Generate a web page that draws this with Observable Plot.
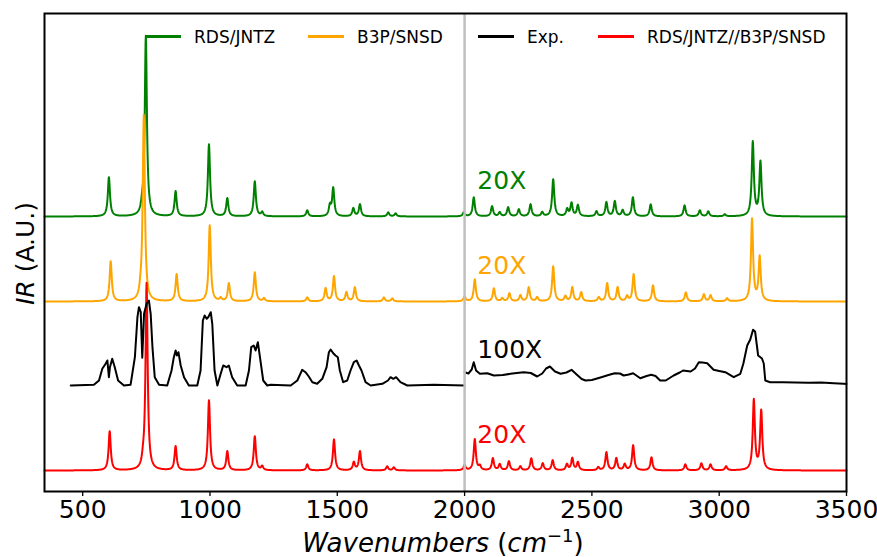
<!DOCTYPE html>
<html>
<head>
<meta charset="utf-8">
<script src="https://cdn.jsdelivr.net/npm/d3@7"></script>
<script src="https://cdn.jsdelivr.net/npm/@observablehq/plot@0.6"></script>
<style>
  body { margin: 0; background: #fff; }
  #chart svg { display: block; }
</style>
</head>
<body>
<div id="chart"></div>
<script>
// ---------------- data ----------------
const seriesNames  = ["RDS/JNTZ", "B3P/SNSD", "Exp.", "RDS/JNTZ//B3P/SNSD"];
const seriesColors = ["green", "orange", "black", "red"];
const scaleLabels  = ["20X", "20X", "100X", "20X"];
const seriesOffsets = [275, 190, 106, 21];
const xTicks = [500, 1000, 1500, 2000, 2500, 3000, 3500];

// RDS/JNTZ computed bands (wavenumber, intensity A.U.; >2000 shown 20X)
const rdsPos = [603, 733, 748, 865, 996, 1068, 1176, 1205, 1382, 1471, 1484, 1563, 1589, 1700, 1729,
  1997, 2036, 2108, 2138, 2171, 2213, 2259, 2305, 2348, 2403, 2420, 2445, 2518, 2557, 2590, 2621, 2661,
  2731, 2864, 2924, 2957, 3022, 3132, 3162];
const rdsInt = [39, 6, 180, 25, 72, 18, 35, 4, 6, 10, 28, 8, 12, 4, 3,
  4, 19, 10, 4, 9, 7, 12, 4, 37, 7, 13, 11, 5, 14, 15, 6, 19,
  12, 11, 6, 5, 2, 74, 54];

// B3P/SNSD computed bands
const b3pPos = [610, 727, 740, 869, 999, 1042, 1074, 1176, 1212, 1382, 1454, 1487, 1536, 1569, 1683, 1716,
  2000, 2040, 2115, 2148, 2176, 2219, 2252, 2285, 2348, 2396, 2423, 2458, 2527, 2560, 2601, 2638, 2664,
  2740, 2869, 2940, 2966, 3031, 3129, 3159];
const b3pInt = [40, 5, 186, 27, 76, 3, 18, 29, 3, 4, 13, 25, 9, 14, 4, 3,
  5, 22, 13, 3, 8, 6, 14, 4, 35, 5, 14, 9, 4, 18, 14, 5, 27,
  16, 9, 7, 6, 3, 82, 44];

// RDS/JNTZ//B3P/SNSD computed bands
const hybPos = [606, 737, 751, 865, 996, 1068, 1176, 1205, 1382, 1487, 1565, 1589, 1696, 1722,
  2000, 2040, 2060, 2111, 2138, 2174, 2219, 2262, 2307, 2346, 2402, 2423, 2445, 2525, 2557, 2596, 2629,
  2662, 2734, 2867, 2930, 2966, 3027, 3136, 3165];
const hybInt = [39, 6, 187, 24, 70, 19, 34, 4, 6, 31, 8, 19, 4, 3,
  5, 31, 4, 12, 6, 9, 4, 12, 7, 10, 6, 12, 8, 3, 18, 12, 6,
  25, 13, 6, 7, 6, 4, 70, 59];

// Experimental spectrum, below 2000 (wavenumber, intensity A.U.)
const expLowX = [453, 544, 564, 577, 590, 597, 603, 607, 616, 626, 639, 662, 688, 705, 715, 721, 728, 734,
  741, 751, 760, 767, 774, 783, 800, 832, 849, 858, 865, 870, 876, 885, 898, 917, 950, 963, 972, 979, 987,
  993, 1003, 1009, 1018, 1029, 1042, 1052, 1065, 1074, 1087, 1107, 1140, 1153, 1162, 1172, 1179, 1188, 1199,
  1209, 1225, 1238, 1317, 1343, 1362, 1375, 1388, 1402, 1421, 1441, 1458, 1467, 1474, 1484, 1493, 1502, 1510,
  1523, 1539, 1552, 1565, 1576, 1585, 1595, 1611, 1631, 1677, 1699, 1709, 1720, 1731, 1748, 1775, 1879, 2000];
const expLowY = [0, 0.7, 5, 16.7, 21.7, 25, 8.3, 18.3, 26.7, 18.3, 5, 0, 0.7, 28.3, 68.3, 78.3, 73.3, 27.7,
  71.7, 81.7, 85, 71.7, 38.3, 8.3, 0.7, 0, 15, 28.3, 35, 30, 33.3, 20, 8.3, 0, 0, 15, 65, 70, 66.7,
  68.3, 73.3, 61.7, 15, 0, 11.7, 20, 18.3, 20, 8.3, 0, 0, 15, 38.3, 40, 35, 43.3, 23.3,
  5, 0, 0.7, 0, 5, 15.7, 13.3, 9, 3.3, 1.7, 6.7, 18.3, 33.3, 36, 32.3, 30, 28.3, 15,
  3.3, 5, 15, 23.3, 25, 20, 15, 3.3, 0, 1.7, 5, 8.3, 6.7, 8.3, 3.3, 0, 0.7, 0];

// Experimental spectrum, above 2000 (shown 100X)
const expHighX = [2000, 2015, 2028, 2036, 2045, 2060, 2089, 2115, 2150, 2180, 2205, 2232, 2260, 2285, 2305,
  2320, 2335, 2355, 2377, 2400, 2420, 2440, 2460, 2475, 2500, 2537, 2565, 2590, 2610, 2625, 2645, 2662,
  2690, 2715, 2733, 2750, 2768, 2790, 2821, 2845, 2858, 2888, 2905, 2920, 2935, 2953, 2978, 3000, 3024,
  3057, 3083, 3095, 3110, 3122, 3133, 3141, 3153, 3168, 3175, 3181, 3200, 3250, 3300, 3350, 3400, 3450, 3490, 3500];
const expHighY = [13.3, 12, 16, 23.3, 15, 11.7, 12.3, 10, 10.5, 11.7, 12.5, 13.3, 12.5, 9, 12,
  17, 19, 14, 11.7, 13, 15.7, 11, 6.5, 5, 5.5, 8.3, 10.5, 12.3, 12, 10, 11, 12.3,
  7.3, 9.5, 10.7, 9.5, 5, 5, 10, 13, 15, 14, 17, 23.3, 23, 22.3, 15.7, 14.5, 13.3,
  8.3, 11.7, 22, 40, 46, 55.7, 54, 30, 27, 22, 5, 3.3, 3.3, 3, 2.8, 3, 2.3, 1.7, 1.5];

// ---------------- build series ----------------
const HWHM = 5;
const grid = d3.range(350, 3501, 1);
function bandSpectrum(pos, inten, offset, name) {
  return grid.map(x => ({
    x,
    y: offset + d3.sum(pos, (p, i) => inten[i] / (1 + ((x - p) / HWHM) ** 2)),
    series: name
  }));
}
const computed = [
  ...bandSpectrum(rdsPos, rdsInt, seriesOffsets[0], seriesNames[0]),
  ...bandSpectrum(b3pPos, b3pInt, seriesOffsets[1], seriesNames[1]),
  ...bandSpectrum(hybPos, hybInt, seriesOffsets[3], seriesNames[3])
];
const expLow  = expLowX.map((x, i) => ({x, y: seriesOffsets[2] + expLowY[i]}));
const expHigh = expHighX.map((x, i) => ({x, y: seriesOffsets[2] + expHighY[i]}));

const labelLift = 27.7;
const scaleText = scaleLabels.map((t, i) => ({
  text: t, x: 2050, y: seriesOffsets[i] + labelLift, color: seriesColors[i]
}));

// ---------------- plot ----------------
const svg = Plot.plot({
  width: 877,
  height: 557,
  marginTop: 13,
  marginBottom: 66,
  marginLeft: 44,
  marginRight: 31,
  style: {fontFamily: "DejaVu Sans", background: "#fff", overflow: "visible"},
  x: {domain: [350, 3500], label: null},
  y: {domain: [0, 478], axis: null},
  color: {domain: seriesNames, range: seriesColors},
  marks: [
    Plot.line(computed, {x: "x", y: "y", z: "series", stroke: "series", strokeWidth: 2, curve: "linear"}),
    Plot.line(expLow, {x: "x", y: "y", stroke: "black", strokeWidth: 2}),
    Plot.line(expHigh, {x: "x", y: "y", stroke: "black", strokeWidth: 2}),
    Plot.ruleX([2000], {stroke: "#bfbfbf", strokeWidth: 2.5}),
    Plot.text(scaleText, {x: "x", y: "y", text: "text", fill: "color", textAnchor: "start",
      lineAnchor: "bottom", fontSize: 25}),
    Plot.axisX({ticks: xTicks, tickSize: 5, tickPadding: 4, fontSize: 25, tickFormat: d => String(d),
      stroke: "black", strokeWidth: 1.3, color: "black"}),
    Plot.frame({stroke: "black", strokeWidth: 2})
  ]
});

const root = d3.select(svg);
// legend
const legendX = [145, 308, 478, 598];
const lg = root.append("g").attr("font-family", "DejaVu Sans").attr("font-size", 17)
  .attr("text-anchor", "start");
seriesNames.forEach((name, i) => {
  lg.append("line").attr("x1", legendX[i]).attr("x2", legendX[i] + 36)
    .attr("y1", 36.5).attr("y2", 36.5).attr("stroke", seriesColors[i]).attr("stroke-width", 3);
  lg.append("text").attr("x", legendX[i] + 49).attr("y", 42.6)
    .attr("text-anchor", "start").attr("fill", "black").text(name);
});

// y label
const yl = root.append("text").attr("transform", "translate(34,253.5) rotate(-90)")
  .attr("text-anchor", "middle").attr("font-family", "DejaVu Sans").attr("font-size", 25).attr("fill", "black");
yl.append("tspan").attr("font-style", "italic").text("IR");
yl.append("tspan").text(" (A.U.)");

// x label
const xl = root.append("text").attr("x", 443).attr("y", 552)
  .attr("text-anchor", "middle").attr("font-family", "DejaVu Sans").attr("font-size", 26).attr("fill", "black");
xl.append("tspan").attr("font-style", "italic").text("Wavenumbers");
xl.append("tspan").text(" (");
xl.append("tspan").attr("font-style", "italic").text("cm");
xl.append("tspan").attr("font-size", 18).attr("dy", -10).text("−1");
xl.append("tspan").attr("dy", 10).text(")");

document.getElementById("chart").appendChild(svg);
</script>
</body>
</html>
